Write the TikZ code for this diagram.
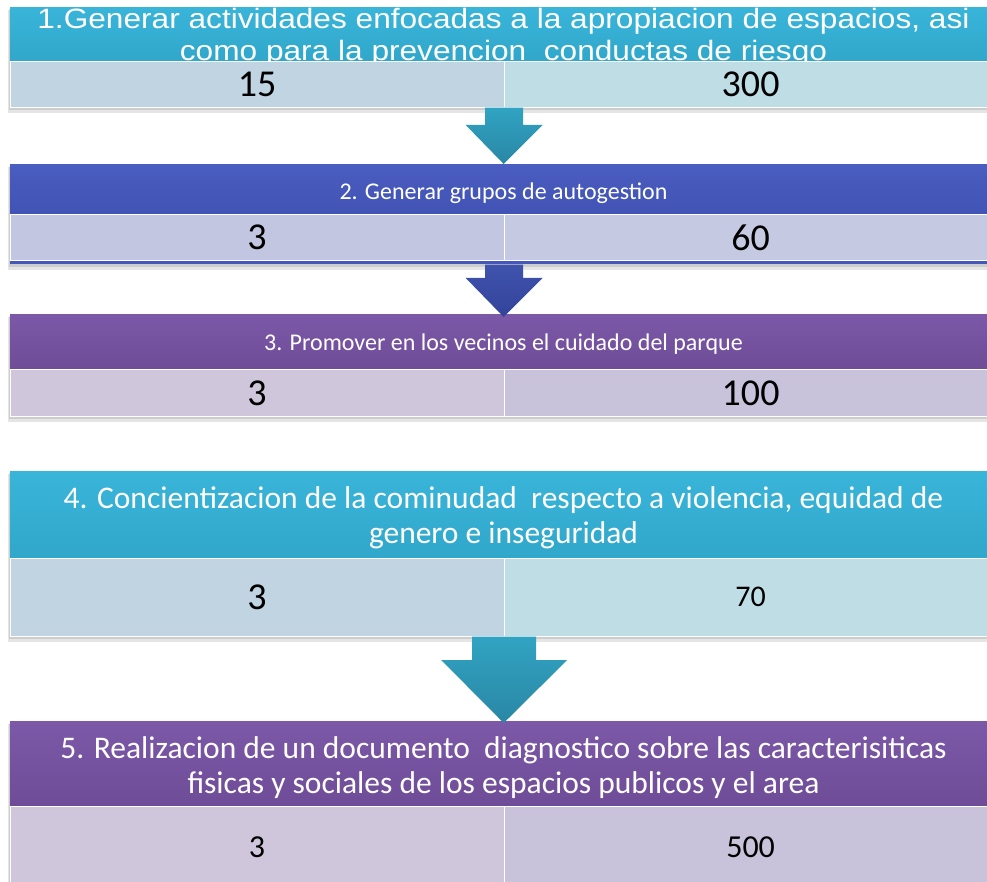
\documentclass[tikz,border=0pt]{standalone}
\usepackage{fontspec}
\setmainfont{Carlito}
\newfontfamily\arialf[FakeStretch=1.13]{Liberation Sans}
\usetikzlibrary{calc}
\definecolor{tealtop}{HTML}{39B5D9}
\definecolor{tealbot}{HTML}{30A7CB}
\definecolor{bluetop}{HTML}{4A5DC0}
\definecolor{bluebot}{HTML}{4153B4}
\definecolor{purptop}{HTML}{7C59A8}
\definecolor{purpbot}{HTML}{6F4C97}
\definecolor{rowTL}{HTML}{C0D4E2}
\definecolor{rowTR}{HTML}{BFDDE5}
\definecolor{rowBL}{HTML}{C2C6E1}
\definecolor{rowBR}{HTML}{C5C9E2}
\definecolor{rowPL}{HTML}{CFC6DC}
\definecolor{rowPR}{HTML}{C8C3DA}
\definecolor{blueline}{HTML}{4458BC}
\definecolor{arTtop}{HTML}{31A3C2}
\definecolor{arTbot}{HTML}{2987A5}
\definecolor{arBtop}{HTML}{3F53AD}
\definecolor{arBbot}{HTML}{33439A}
\begin{document}
\begin{tikzpicture}[x=1pt,y=-1pt,
  hdr/.style={rectangle, inner sep=0pt, anchor=north west, minimum width=987pt},
  cell/.style={rectangle, inner sep=0pt, anchor=north west, minimum width=493.5pt, draw=white, line width=0.7pt, text=black},
  htext/.style={anchor=base, text=white, inner sep=0pt},
  shad/.style={fill=black, opacity=0.10},
]
\useasboundingbox (0,0) rectangle (987,882);
\clip (0,0) rectangle (987,882);
\fill[white] (0,0) rectangle (987,882);

% shadows
\foreach \t/\b in {7/107, 164/264, 314/416, 471/636, 721/900}{
  \fill[shad] (8,\t+3) rectangle (1000,\b+6);
  \fill[shad] (9,\t+2) rectangle (999,\b+3);
}

% block 1
\node[hdr, minimum height=54pt, top color=tealtop, bottom color=tealbot] (h1) at (10,7) {};
\node[htext, font=\arialf\fontsize{28}{30}\selectfont] (t1a) at (503.5,29) {1.Generar actividades enfocadas a la apropiacion de espacios, asi};
\node[htext, font=\arialf\fontsize{28}{30}\selectfont] (t1b) at (503.5,61) {como para la prevencion\ \ conductas de riesgo};
\node[cell, fill=rowTL, minimum height=46pt, font=\fontsize{38}{42}\selectfont] (l1) at (10,61) {15};
\node[cell, fill=rowTR, minimum height=46pt, font=\fontsize{38}{42}\selectfont] (r1) at (503.5,61) {300};

% block 2
\node[hdr, minimum height=50pt, top color=bluetop, bottom color=bluebot] (h2) at (10,164) {};
\node[htext, font=\fontsize{24}{28}\selectfont] (t2) at (503.5,200) {2. Generar grupos de autogestion};
\node[cell, fill=rowBL, minimum height=46pt, font=\fontsize{38}{42}\selectfont] (l2) at (10,214) {3};
\node[cell, fill=rowBR, minimum height=46pt, font=\fontsize{38}{42}\selectfont] (r2) at (503.5,214) {60};
\draw[blueline, line width=3.5pt] ($(l2.south west)+(0,2)$) -- ($(r2.south east)+(0,2)$);

% block 3
\node[hdr, minimum height=55pt, top color=purptop, bottom color=purpbot] (h3) at (10,314) {};
\node[htext, font=\fontsize{24}{28}\selectfont] (t3) at (503.5,350) {3. Promover en los vecinos el cuidado del parque};
\node[cell, fill=rowPL, minimum height=47pt, font=\fontsize{38}{42}\selectfont] (l3) at (10,369) {3};
\node[cell, fill=rowPR, minimum height=47pt, font=\fontsize{38}{42}\selectfont] (r3) at (503.5,369) {100};

% block 4
\node[hdr, minimum height=87pt, top color=tealtop, bottom color=tealbot] (h4) at (10,471) {};
\node[htext, font=\fontsize{31.5}{36}\selectfont] (t4a) at (503.5,508) {4. Concientizacion de la cominudad\ \ respecto a violencia, equidad de};
\node[htext, font=\fontsize{31.5}{36}\selectfont] (t4b) at (503.5,543) {genero e inseguridad};
\node[cell, fill=rowTL, minimum height=78pt, font=\fontsize{38}{42}\selectfont] (l4) at (10,558) {3};
\node[cell, fill=rowTR, minimum height=78pt, font=\fontsize{30}{36}\selectfont] (r4) at (503.5,558) {70};

% block 5
\node[hdr, minimum height=85pt, top color=purptop, bottom color=purpbot] (h5) at (10,721) {};
\node[htext, font=\fontsize{31.5}{36}\selectfont] (t5a) at (503.5,758) {5. Realizacion de un documento\ \ diagnostico sobre las caracterisiticas};
\node[htext, font=\fontsize{31.5}{36}\selectfont] (t5b) at (503.5,793) {fisicas y sociales de los espacios publicos y el area};
\node[cell, fill=rowPL, minimum height=82pt, font=\fontsize{32}{36}\selectfont] (l5) at (10,806) {3};
\node[cell, fill=rowPR, minimum height=82pt, font=\fontsize{32}{36}\selectfont] (r5) at (503.5,806) {500};

% block arrows
\path[top color=arTtop, bottom color=arTbot] let \p1=(l1.south east), \p2=(h2.north) in
  (\x1-19,\y1) -- (\x1+19,\y1) -- (\x1+19,\y2+39) -- (\x1+38.5,\y2+39) -- (\x2,\y2)
  -- (\x1-38.5,\y2+39) -- (\x1-19,\y2+39) -- cycle;
\path[top color=arBtop, bottom color=arBbot] let \p1=(l2.south east), \p2=(h3.north) in
  (\x1-19,\y1-4) -- (\x1+19,\y1-4) -- (\x1+19,\y2+36) -- (\x1+38.5,\y2+36) -- (\x2,\y2-3)
  -- (\x1-38.5,\y2+36) -- (\x1-19,\y2+36) -- cycle;
\path[top color=arTtop, bottom color=arTbot] let \p1=(l4.south east), \p2=(h5.north) in
  (\x1-32,\y1) -- (\x1+32,\y1) -- (\x1+32,\y2+61) -- (\x1+63,\y2+61) -- (\x2,\y2-2)
  -- (\x1-63,\y2+61) -- (\x1-32,\y2+61) -- cycle;
\end{tikzpicture}
\end{document}
